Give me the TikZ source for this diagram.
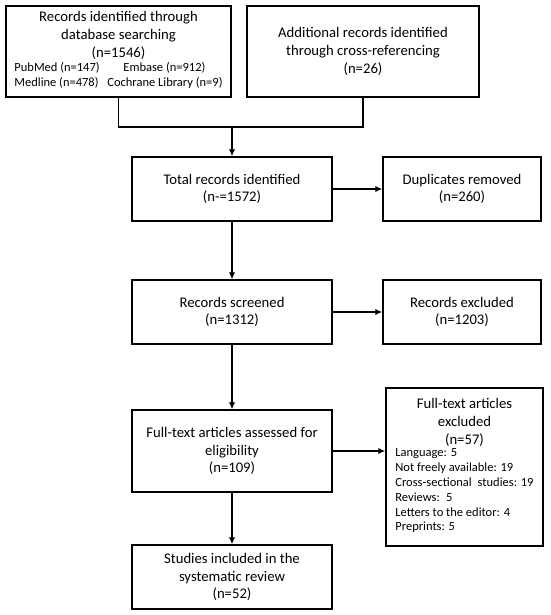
\documentclass[tikz,border=0pt]{standalone}
\usepackage{fontspec}
\setmainfont{Carlito}
\usetikzlibrary{arrows.meta}
\begin{document}
\begin{tikzpicture}[x=1pt,y=-1pt,
  box/.style={draw, line width=1.5pt, align=center, inner sep=0pt, font=\fontsize{14.7}{17.8}\selectfont},
  arr/.style={line width=1.5pt, -{Latex[length=7pt,width=6.5pt]}},
  ln/.style={line width=1.5pt}]
\useasboundingbox (0,0) rectangle (550,615);
\node[box, minimum width=225pt, minimum height=91pt] (db) at (118.5,51.5)
  {Records identified through\\database searching\\(n=1546)\\[1pt]{\fontsize{12.5}{15}\selectfont\begin{tabular}{@{}l@{}}PubMed (n=147)\hspace{1.9em}Embase (n=912)\\Medline (n=478)\hspace{0.7em}Cochrane Library (n=9)\end{tabular}}};
\node[box, minimum width=232pt, minimum height=91pt] (add) at (363,51.5)
  {Additional records identified\\through cross-referencing\\(n=26)};
\node[box, minimum width=200pt, minimum height=64pt] (total) at (232,189)
  {Total records identified\\(n-=1572)};
\node[box, minimum width=158pt, minimum height=64pt] (dup) at (462,189)
  {Duplicates removed\\(n=260)};
\node[box, minimum width=200pt, minimum height=64pt] (scr) at (232,312)
  {Records screened\\(n=1312)};
\node[box, minimum width=158pt, minimum height=64pt] (rex) at (462,312)
  {Records excluded\\(n=1203)};
\node[box, minimum width=200pt, minimum height=82pt] (ft) at (232,451)
  {Full-text articles assessed for\\eligibility\\(n=109)};
\node[box, minimum width=157pt, minimum height=158pt] (ftex) at (464.5,467)
  {Full-text articles\\excluded\\(n=57)\\[-1pt]{\fontsize{12.5}{14.8}\selectfont\begin{tabular}{@{}l@{}}Language: 5\\Not freely available: 19\\Cross-sectional\hspace{0.25em} studies: 19\\Reviews:\hspace{0.2em} 5\\Letters to the editor: 4\\Preprints: 5\end{tabular}}};
\node[box, minimum width=200pt, minimum height=64pt] (inc) at (232,577)
  {Studies included in the\\systematic review\\(n=52)};
\coordinate (j) at (232,127);
\draw[ln] (db.south) |- (j);
\draw[ln] (add.south) |- (j);
\draw[arr] (j) -- (total.north);
\draw[arr] (total.east) -- (dup.west);
\draw[arr] (total.south) -- (scr.north);
\draw[arr] (scr.east) -- (rex.west);
\draw[arr] (scr.south) -- (ft.north);
\draw[arr] (ft.east) -- (ft.east -| ftex.west);
\draw[arr] (ft.south) -- (inc.north);
\end{tikzpicture}
\end{document}
